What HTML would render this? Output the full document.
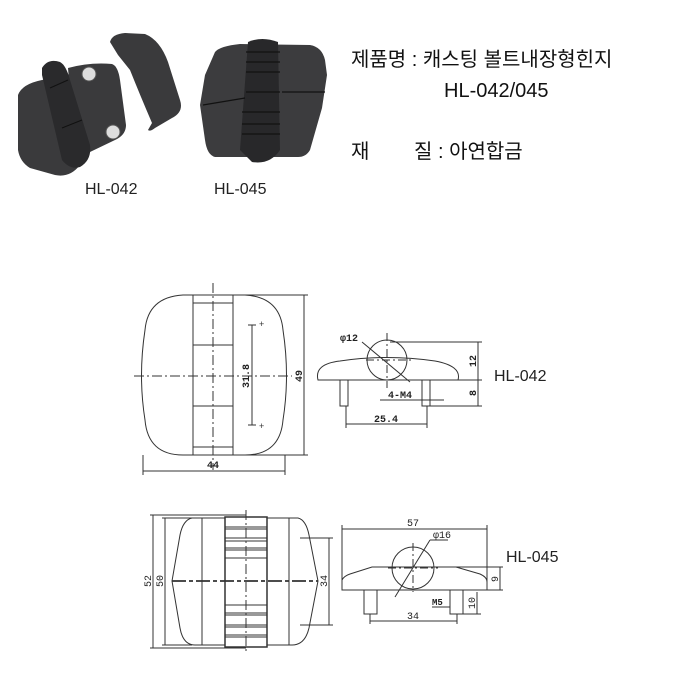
<!DOCTYPE html>
<html><head><meta charset="utf-8"><style>
html,body{margin:0;padding:0;background:#fff;}
svg{display:block;}
text{font-family:"Liberation Sans","Noto Sans CJK KR",sans-serif;}
.m{font-family:"Liberation Mono",monospace;font-size:10px;font-weight:bold;fill:#222;}
</style></head><body>
<svg width="699" height="676" viewBox="0 0 699 676" xmlns="http://www.w3.org/2000/svg">
<rect width="699" height="676" fill="#fff"/>
<!-- Photos HL-042 -->
<g fill="#3a3a3c">
<path d="M18,95 Q22,84 42,80 L80,72 L80,165 Q70,178 55,175 L30,168 Q20,162 18,150 Z"/>
<path d="M68,68 Q90,62 112,64 Q118,66 120,80 L126,125 Q126,135 115,140 L90,152 Q80,158 75,150 Z"/>
<path d="M110,42 Q112,34 125,33 L145,34 Q160,40 168,62 L180,100 Q184,112 172,118 L155,128 Q150,132 148,130 L152,123 Q140,95 130,70 L118,55 Z"/>
</g>
<path d="M42,68 Q48,58 60,62 Q66,65 70,80 L90,145 Q92,160 80,167 Q70,170 62,160 L42,75 Z" fill="#2a2a2c"/>
<line x1="50" y1="88" x2="68" y2="80" stroke="#111"/>
<line x1="62" y1="128" x2="82" y2="120" stroke="#111"/>
<circle cx="89" cy="74" r="7" fill="#ddd" stroke="#555"/>
<circle cx="113" cy="132" r="7" fill="#ddd" stroke="#555"/>
<!-- Photo HL-045 -->
<path d="M215,52 Q220,46 240,44 L310,45 Q322,47 325,60 L327,75 L322,108 L310,150 Q306,157 298,157 L215,157 Q207,155 205,140 L200,105 L205,75 Z" fill="#3c3c3e"/>
<path d="M248,42 Q262,36 278,42 L280,150 Q270,165 252,162 L240,150 Z" fill="#28282a"/>
<g stroke="#111" stroke-width="1.2">
<line x1="246" y1="52" x2="280" y2="52"/><line x1="246" y1="62" x2="280" y2="62"/>
<line x1="246" y1="72" x2="280" y2="72"/><line x1="246" y1="92" x2="280" y2="92"/>
<line x1="242" y1="112" x2="280" y2="112"/><line x1="242" y1="124" x2="280" y2="124"/>
<line x1="242" y1="134" x2="280" y2="134"/><line x1="203" y1="105" x2="245" y2="98"/>
<line x1="282" y1="92" x2="325" y2="92"/>
</g>
<text x="85" y="194" font-size="16" fill="#222">HL-042</text>
<text x="214" y="194" font-size="16" fill="#222">HL-045</text>
<!-- Title texts -->
<text x="351" y="66" font-size="20" fill="#111">제품명 : 캐스팅 볼트내장형힌지</text>
<text x="444" y="97" font-size="20" fill="#111">HL-042/045</text>
<text x="351" y="158" font-size="20" fill="#111">재</text>
<text x="414" y="158" font-size="20" fill="#111">질 : 아연합금</text>

<!-- HL-042 front -->
<g fill="none" stroke="#333" stroke-width="1">
<path d="M183,295 L245,295 Q280,297 283,330 Q290,376 283,420 Q280,455 245,455 L183,455 Q148,455 145,420 Q138,376 145,330 Q148,297 183,295 Z"/>
<rect x="193" y="295" width="40" height="160"/>
<line x1="193" y1="303" x2="233" y2="303"/><line x1="193" y1="345" x2="233" y2="345"/>
<line x1="193" y1="406" x2="233" y2="406"/><line x1="193" y1="447" x2="233" y2="447"/>
<line x1="213" y1="283" x2="213" y2="470" stroke-dasharray="10,3,2,3"/>
<line x1="134" y1="376" x2="292" y2="376" stroke-dasharray="10,3,2,3"/>
<line x1="245" y1="295" x2="308" y2="295"/><line x1="245" y1="455" x2="308" y2="455"/>
<line x1="304" y1="295" x2="304" y2="455"/>
<line x1="252" y1="325" x2="252" y2="425"/>
<line x1="248" y1="325" x2="256" y2="325"/><line x1="248" y1="425" x2="256" y2="425"/>
<line x1="143" y1="455" x2="143" y2="475"/><line x1="285" y1="455" x2="285" y2="475"/>
<line x1="143" y1="471" x2="285" y2="471"/>
</g>
<text x="259" y="327" font-size="9" fill="#333">+</text>
<text x="259" y="429" font-size="9" fill="#333">+</text>
<text class="m" transform="translate(249,376) rotate(-90)" text-anchor="middle">31.8</text>
<text class="m" transform="translate(302,376) rotate(-90)" text-anchor="middle">49</text>
<text class="m" x="213" y="468" text-anchor="middle">44</text>
<!-- HL-042 side -->
<g fill="none" stroke="#333" stroke-width="1">
<path d="M318,380 Q314,364 340,361 Q387,354 435,361 Q462,366 458,380 Z"/>
<circle cx="387" cy="360" r="20"/>
<line x1="387" y1="333" x2="387" y2="388" stroke-dasharray="8,3,2,3"/>
<line x1="366" y1="360" x2="413" y2="360" stroke-dasharray="8,3,2,3"/>
<line x1="362" y1="342" x2="410" y2="382"/>
<rect x="340" y="380" width="8" height="26"/><rect x="422" y="380" width="8" height="26"/>
<line x1="390" y1="342" x2="482" y2="342"/><line x1="458" y1="380" x2="482" y2="380"/>
<line x1="430" y1="406" x2="482" y2="406"/>
<line x1="478" y1="342" x2="478" y2="406"/>
<line x1="346" y1="406" x2="346" y2="428"/><line x1="427" y1="406" x2="427" y2="428"/>
<line x1="346" y1="424" x2="427" y2="424"/>
<line x1="380" y1="400" x2="444" y2="400"/>
</g>
<text class="m" x="340" y="341">φ12</text>
<text class="m" x="388" y="398">4-M4</text>
<text class="m" x="386" y="422" text-anchor="middle">25.4</text>
<text class="m" transform="translate(476,361) rotate(-90)" text-anchor="middle">12</text>
<text class="m" transform="translate(476,393) rotate(-90)" text-anchor="middle">8</text>
<text x="494" y="381" font-size="16" fill="#222">HL-042</text>

<!-- HL-045 front -->
<g fill="none" stroke="#333" stroke-width="1">
<path d="M225,518 L192,518 Q183,520 180,535 L172,581 L180,628 Q183,645 195,645 L225,645"/>
<path d="M267,518 L298,518 Q306,520 309,535 L318,581 L309,628 Q305,645 292,645 L267,645"/>
<rect x="225" y="517" width="42" height="130" stroke-width="1.5"/>
<line x1="202" y1="518" x2="202" y2="645"/><line x1="289" y1="518" x2="289" y2="645"/>
<g stroke-width="0.9">
<line x1="225" y1="527" x2="267" y2="527"/><line x1="225" y1="529" x2="267" y2="529"/>
<line x1="225" y1="538" x2="267" y2="538"/><line x1="225" y1="541" x2="267" y2="541"/>
<line x1="225" y1="548" x2="267" y2="548"/><line x1="225" y1="550" x2="267" y2="550"/>
<line x1="225" y1="558" x2="267" y2="558"/>
<line x1="225" y1="605" x2="267" y2="605"/><line x1="225" y1="613" x2="267" y2="613"/>
<line x1="225" y1="615" x2="267" y2="615"/><line x1="225" y1="625" x2="267" y2="625"/>
<line x1="225" y1="627" x2="267" y2="627"/><line x1="225" y1="635" x2="267" y2="635"/>
<line x1="225" y1="637" x2="267" y2="637"/>
</g>
<line x1="172" y1="581" x2="318" y2="581" stroke-width="1.8" stroke-dasharray="14,3,4,3"/>
<line x1="246" y1="510" x2="246" y2="652" stroke-dasharray="10,3,2,3"/>
<line x1="150" y1="515" x2="246" y2="515"/><line x1="150" y1="648" x2="246" y2="648"/>
<line x1="162" y1="518" x2="192" y2="518"/><line x1="162" y1="645" x2="192" y2="645"/>
<line x1="153" y1="515" x2="153" y2="648"/><line x1="165" y1="518" x2="165" y2="645"/>
<line x1="300" y1="538" x2="333" y2="538"/><line x1="300" y1="625" x2="333" y2="625"/>
<line x1="329" y1="538" x2="329" y2="625"/>
</g>
<text class="m" transform="translate(151,581) rotate(-90)" text-anchor="middle" style="font-weight:normal">52</text>
<text class="m" transform="translate(163,581) rotate(-90)" text-anchor="middle" style="font-weight:normal">50</text>
<text class="m" transform="translate(327,581) rotate(-90)" text-anchor="middle" style="font-weight:normal">34</text>
<!-- HL-045 side -->
<g fill="none" stroke="#333" stroke-width="1">
<path d="M342,590 L342,580 Q344,576 350,574 L372,567 L456,567 L480,574 Q487,577 487,582 L487,590 Z"/>
<line x1="342" y1="525" x2="342" y2="590"/><line x1="487" y1="525" x2="487" y2="590"/>
<line x1="342" y1="529" x2="487" y2="529"/>
<circle cx="413" cy="568" r="21"/>
<line x1="413" y1="543" x2="413" y2="592" stroke-dasharray="8,3,2,3"/>
<line x1="388" y1="568" x2="438" y2="568" stroke-dasharray="8,3,2,3"/>
<line x1="395" y1="597" x2="430" y2="540"/><line x1="430" y1="540" x2="448" y2="540"/>
<rect x="364" y="590" width="13" height="24"/><rect x="450" y="590" width="13" height="24"/>
<line x1="456" y1="567" x2="503" y2="567"/><line x1="487" y1="590" x2="503" y2="590"/>
<line x1="463" y1="614" x2="481" y2="614"/>
<line x1="500" y1="567" x2="500" y2="590"/><line x1="477" y1="592" x2="477" y2="614"/>
<line x1="370" y1="614" x2="370" y2="624"/><line x1="457" y1="614" x2="457" y2="624"/>
<line x1="370" y1="621" x2="457" y2="621"/>
<line x1="432" y1="607" x2="450" y2="607"/>
</g>
<text class="m" x="413" y="526" text-anchor="middle" style="font-weight:normal">57</text>
<text class="m" x="433" y="538" style="font-weight:normal">φ16</text>
<text class="m" x="432" y="605" style="font-size:9px">M5</text>
<text class="m" x="413" y="619" text-anchor="middle" style="font-weight:normal">34</text>
<text class="m" transform="translate(498,579) rotate(-90)" text-anchor="middle" style="font-weight:normal">9</text>
<text class="m" transform="translate(475,603) rotate(-90)" text-anchor="middle" style="font-weight:normal">10</text>
<text x="506" y="562" font-size="16" fill="#222">HL-045</text>
</svg>
</body></html>
